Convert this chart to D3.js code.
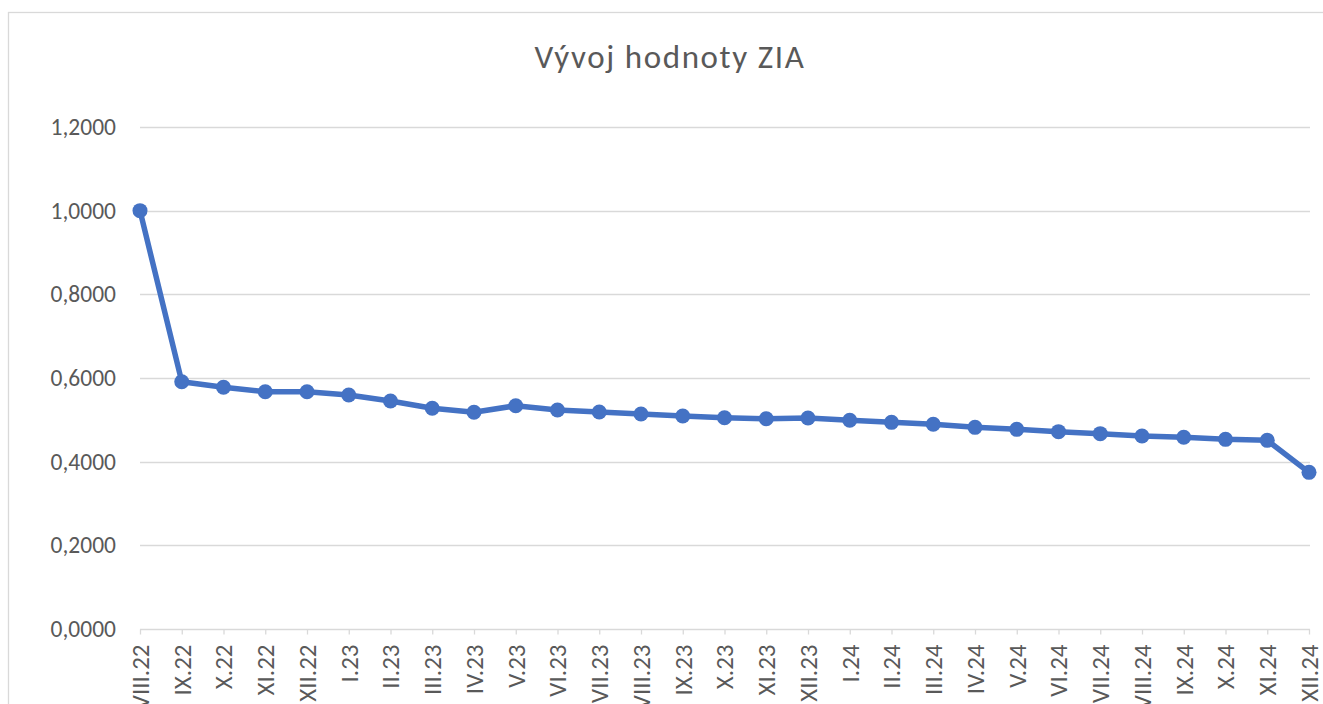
<!DOCTYPE html>
<html>
<head>
<meta charset="utf-8">
<script src="https://cdn.jsdelivr.net/npm/d3@7"></script>
<style>
  body { margin: 0; background: #fff; }
  svg { display: block; font-family: Carlito, "Open Sans", "Liberation Sans", sans-serif; }
</style>
</head>
<body>
<svg id="chart" width="1323" height="704"></svg>
<script>
// categories (months)
let months = ["VIII.22", "IX.22", "X.22", "XI.22", "XII.22",
  "I.23", "II.23", "III.23", "IV.23", "V.23", "VI.23", "VII.23", "VIII.23", "IX.23", "X.23", "XI.23", "XII.23",
  "I.24", "II.24", "III.24", "IV.24", "V.24", "VI.24", "VII.24", "VIII.24", "IX.24", "X.24", "XI.24", "XII.24"];

// ZIA values
let zia = [1.0000, 0.5912, 0.5778, 0.5673, 0.5673,
  0.5594, 0.5450, 0.5276, 0.5180, 0.5338, 0.5235, 0.5187, 0.5140, 0.5090, 0.5050, 0.5027, 0.5044,
  0.4989, 0.4940, 0.4895, 0.4820, 0.4773, 0.4717, 0.4670, 0.4614, 0.4582, 0.4534, 0.4510, 0.3745];

let yTicks = [0, 0.2, 0.4, 0.6, 0.8, 1.0, 1.2];

let data = months.map(function(m, i){ return {month: m, value: zia[i]}; });

let chart = d3.select("#chart");

// outer chart border
chart.append("rect")
    .attr("x", 8.5).attr("y", 12.5)
    .attr("width", 1340).attr("height", 720)
    .attr("fill", "none")
    .attr("stroke", "#d9d9d9")
    .attr("stroke-width", 1.3);

// title
chart.append("text")
    .attr("x", 670)
    .attr("y", 68)
    .attr("text-anchor", "middle")
    .attr("font-size", "33px")
    .attr("letter-spacing", "1.6px")
    .attr("fill", "#595959")
    .text("Vývoj hodnoty ZIA");

//x,y scales
let x = d3.scalePoint()
    .domain(months)
    .range([140, 1309]);

let y = d3.scaleLinear()
    .domain([0, 1.2])
    .range([629, 127]);

// gridlines
chart.append("g")
    .selectAll("line")
    .data(yTicks.slice(1))
    .enter()
    .append("line")
      .attr("x1", 140).attr("x2", 1310)
      .attr("y1", function(d){ return Math.round(y(d)) + 0.5; })
      .attr("y2", function(d){ return Math.round(y(d)) + 0.5; })
      .attr("stroke", "#d9d9d9")
      .attr("stroke-width", 1.3);

// y axis labels
let fmt = function(d){ return d3.format(".4f")(d).replace(".", ","); };
chart.append("g")
    .selectAll("text")
    .data(yTicks)
    .enter()
    .append("text")
      .attr("x", 116)
      .attr("y", function(d){ return y(d); })
      .attr("dy", "0.34em")
      .attr("text-anchor", "end")
      .attr("font-size", "23.5px")
      .attr("fill", "#595959")
      .text(fmt);

// x axis
let xAxis = chart.append("g")
    .attr("transform", "translate(0," + (Math.round(y(0)) + 0.5) + ")")
    .call(d3.axisBottom(x).tickSizeInner(5).tickSizeOuter(0));

xAxis.select(".domain")
    .attr("stroke", "#d9d9d9")
    .attr("stroke-width", 1.3)
    .attr("d", "M140,0H1310");
xAxis.selectAll(".tick line")
    .attr("stroke", "#d9d9d9")
    .attr("stroke-width", 1.3);
xAxis.selectAll(".tick text")
    .attr("transform", "rotate(-90)")
    .attr("x", -15)
    .attr("y", 0)
    .attr("dy", "0.33em")
    .attr("text-anchor", "end")
    .attr("font-size", "25px")
    .attr("font-family", 'Carlito, "Open Sans", "Liberation Sans", sans-serif')
    .attr("fill", "#595959");

// line
let line = d3.line()
    .x(function(d){ return x(d.month); })
    .y(function(d){ return y(d.value); });

chart.append("path")
    .datum(data)
    .attr("d", line)
    .attr("fill", "none")
    .attr("stroke", "#4472C4")
    .attr("stroke-width", 5.5)
    .attr("stroke-linejoin", "round");

// markers
chart.selectAll("circle.pt")
    .data(data)
    .enter()
    .append("circle")
      .attr("class", "pt")
      .attr("cx", function(d){ return x(d.month); })
      .attr("cy", function(d){ return y(d.value); })
      .attr("r", 7.5)
      .style("fill", "#4472C4");
</script>
</body>
</html>
